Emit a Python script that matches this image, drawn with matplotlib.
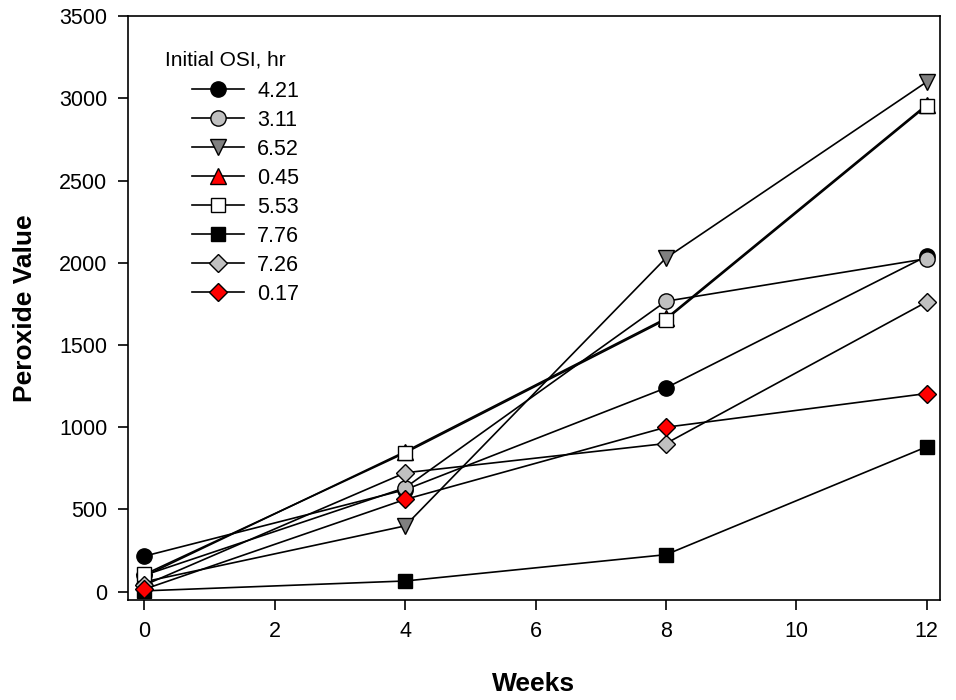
import matplotlib
matplotlib.use("Agg")
import matplotlib.pyplot as plt

plt.rcParams['font.family'] = ['Liberation Sans', 'DejaVu Sans']

weeks = [0, 4, 8, 12]
labels = ["4.21", "3.11", "6.52", "0.45", "5.53", "7.76", "7.26", "0.17"]
s_421 = [216, 620, 1239, 2040]
s_311 = [100, 632, 1766, 2025]
s_652 = [60, 400, 2029, 3100]
s_045 = [95, 852, 1662, 2962]
s_553 = [105, 844, 1654, 2954]
s_776 = [5, 65, 225, 881]
s_726 = [40, 723, 901, 1762]
s_017 = [15, 561, 1000, 1205]
series = [s_421, s_311, s_652, s_045, s_553, s_776, s_726, s_017]
xticks = [0, 2, 4, 6, 8, 10, 12]
yticks = [0, 500, 1000, 1500, 2000, 2500, 3000, 3500]

styles = [
    dict(marker='o', mfc='black', ms=11),
    dict(marker='o', mfc='#c0c0c0', ms=11),
    dict(marker='v', mfc='#808080', ms=11),
    dict(marker='^', mfc='red', ms=11),
    dict(marker='s', mfc='white', ms=10),
    dict(marker='s', mfc='black', ms=10),
    dict(marker='D', mfc='#c0c0c0', ms=9),
    dict(marker='D', mfc='red', ms=9),
]

fig = plt.figure(figsize=(9.56, 7.0), dpi=100)
ax = fig.add_axes([0.134, 0.143, 0.849, 0.834])

for i in range(len(series)):
    ax.plot(weeks, series[i], color='black', lw=1.2, mec='black', mew=1.0,
            label=labels[i], zorder=2 + i * 0.1, **styles[i])

ax.set_xlim(-0.25, 12.2)
ax.set_ylim(-50, 3500)
ax.set_xticks(xticks)
ax.set_yticks(yticks)
ax.tick_params(axis='both', direction='out', length=7, width=1.2, labelsize=15.5,
               top=False, right=False, pad=8)
for sp in ax.spines.values():
    sp.set_linewidth(1.2)

ax.set_xlabel("Weeks", fontsize=19, fontweight='bold', labelpad=22)
ax.set_ylabel("Peroxide Value", fontsize=19, fontweight='bold', labelpad=16)

# legend title as separate text (handles are indented relative to it in the reference)
fig.text(165 / 956, 1 - 60 / 700, "Initial OSI, hr", fontsize=15, ha='left', va='center')
leg = ax.legend(loc='upper left', bbox_to_anchor=(0.079, 0.889),
                frameon=False, fontsize=15.5, handlelength=2.42,
                handletextpad=0.6, labelspacing=0.37, borderaxespad=0.0,
                borderpad=0.0)

fig.savefig("out.png", dpi=100)
